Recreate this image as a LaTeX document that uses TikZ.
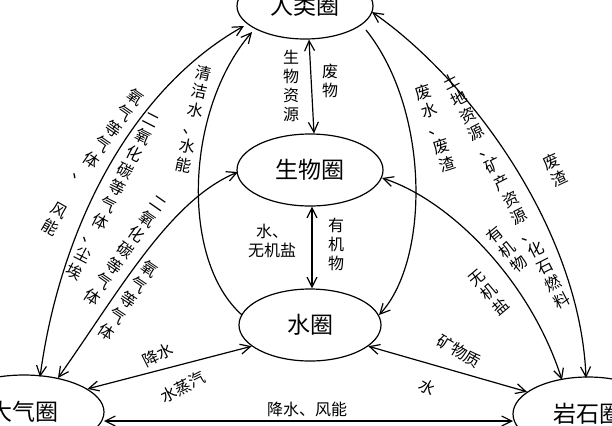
\documentclass[tikz,border=0pt]{standalone}
\usepackage{fontspec}
\setmainfont{Noto Sans CJK SC}
\usetikzlibrary{shapes.geometric,arrows.meta}
\newcommand\vtx[1]{\begin{tabular}{@{}c@{}}#1\end{tabular}}
\begin{document}
\begin{tikzpicture}[x=1bp,y=-1bp,
  circ/.style={ellipse,draw,line width=1.2bp,font=\fontsize{23bp}{26bp}\selectfont,inner sep=0pt},
  arr/.style={line width=1.2bp,{Straight Barb[length=10bp,width=10bp]}-{Straight Barb[length=10bp,width=10bp]}},
  arre/.style={line width=1.2bp,-{Straight Barb[length=10bp,width=10bp]}},
  lab/.style={font=\fontsize{16bp}{18.5bp}\selectfont,inner sep=0pt}]
\useasboundingbox (0,0) rectangle (612,425);
\clip (0,0) rectangle (612,425);
\fill[white] (0,0) rectangle (612,425);
% nodes
\node[circ,minimum width=136bp,minimum height=66bp] (hum) at (305,6) {\raisebox{-4bp}{人类圈}};
\node[circ,minimum width=146bp,minimum height=72bp] (bio) at (310,170) {生物圈};
\node[circ,minimum width=142bp,minimum height=72bp] (hyd) at (310,325) {水圈};
\node[circ,minimum width=160bp,minimum height=74bp] (atm) at (24,412) {大气圈};
\node[circ,minimum width=150bp,minimum height=74bp] (lit) at (588,414) {岩石圈};
% coordinates for curved connectors
\coordinate (a1) at (40,377); \coordinate (h1) at (244,26);
\coordinate (a2) at (58,378); \coordinate (b1) at (238,172);
\coordinate (h2) at (252,32); \coordinate (w1) at (242,315);
\coordinate (h3) at (366,30); \coordinate (w2) at (379,315);
\coordinate (h4) at (372,12); \coordinate (r1) at (586,378);
\coordinate (b2) at (382,178); \coordinate (r2) at (562,380);
% connectors
\draw[arr] ([xshift=4bp]hum.south) -- ([xshift=4bp]bio.north);
\draw[arr] ([xshift=2bp]bio.south) -- ([xshift=2bp]hyd.north);
\draw[arr] (a1) .. controls (60,230) and (130,90) .. (h1);
\draw[arr] (a2) .. controls (120,290) and (170,200) .. (b1);
\draw[arre] (w1) .. controls (180,260) and (185,110) .. (h2);
\draw[arre] (h3) .. controls (430,110) and (430,260) .. (w2);
\draw[arr] (h4) .. controls (470,80) and (580,230) .. (r1);
\draw[arr] (b2) .. controls (450,200) and (530,280) .. (r2);
\draw[arr] (hyd.200) -- (atm.20);
\draw[arr] (hyd.-20) -- (lit.160);
\draw[arr] (104,421) -- (513,421);
% labels
\node[lab] (l1) at (291,88) {\vtx{生\\物\\资\\源}};
\node[lab] (l2) at (330,83) {\vtx{废\\物}};
\node[lab] (l3) at (272,243) {\vtx{水、\\无机盐}};
\node[lab] (l4) at (336,247) {\vtx{有\\机\\物}};
\node[lab,rotate=-12] (l5) at (193,121) {\vtx{清\\洁\\水\\、\\水\\能}};
\node[lab,rotate=-35] (l6) at (107,138) {\vtx{氧\\气\\等\\气\\体\\、}};
\node[lab,rotate=-30] (l7) at (54,221) {\vtx{风\\能}};
\node[lab,rotate=-27] (l8) at (112,198) {\vtx{二\\氧\\化\\碳\\等\\气\\体\\、\\尘\\埃}};
\node[lab,rotate=-35] (l9) at (124,252) {\vtx{二\\氧\\化\\碳\\等\\气\\体}};
\node[lab,rotate=-34] (l10) at (127,302) {\vtx{氧\\气\\等\\气\\体}};
\node[lab,rotate=18] (l11) at (436,130) {\vtx{废\\水\\、\\废\\渣}};
\node[lab,rotate=27] (l12) at (507,193) {\vtx{土\\地\\资\\源\\、\\矿\\产\\资\\源\\、\\化\\石\\燃\\料}};
\node[lab,rotate=25] (l13) at (556,172) {\vtx{废\\渣}};
\node[lab,rotate=39] (l14) at (508,251) {\vtx{有\\机\\物}};
\node[lab,rotate=40] (l15) at (490,294) {\vtx{无\\机\\盐}};
\node[lab,rotate=-30] (l16) at (459,351) {矿物质};
\node[lab,rotate=-30] (l17) at (427,387) {水};
\node[lab,rotate=27] (l18) at (158,355) {降水};
\node[lab,rotate=27] (l19) at (183,387) {水蒸汽};
\node[lab] (l20) at (307,409) {降水、风能};
\end{tikzpicture}
\end{document}
